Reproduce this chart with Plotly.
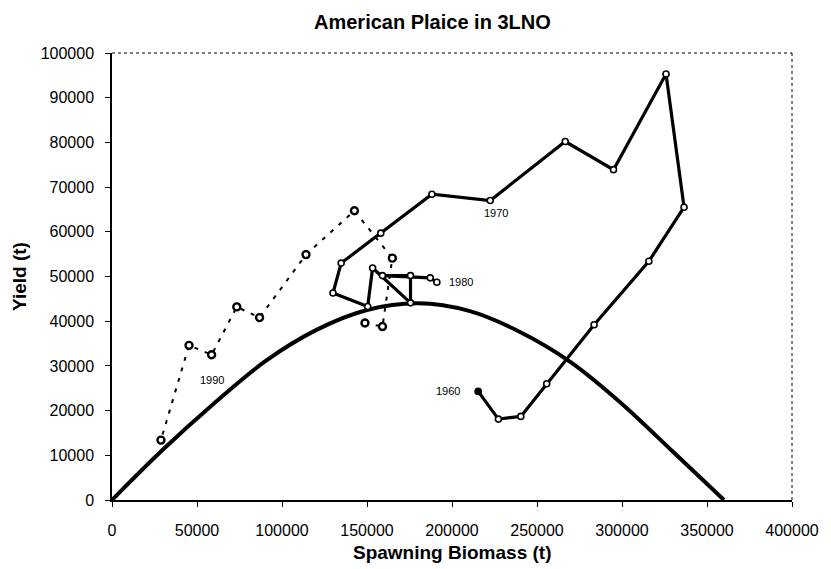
import plotly.graph_objects as go

# Stock trajectory 1960-1980 (spawning biomass vs yield, tonnes)
biomass_1960_80 = [215400, 227300, 240500, 255700, 283600, 315800, 336500, 325900,
                   295000, 266600, 222500, 188200, 158100, 134800, 130000, 150400,
                   153300, 175600, 175600, 159100, 187200, 191100]
yield_1960_80 = [24300, 18100, 18700, 26000, 39200, 53400, 65500, 95300,
                 73900, 80200, 67000, 68400, 59700, 53000, 46300, 43300,
                 51900, 44100, 50200, 50200, 49700, 48700]

# Later trajectory (dashed)
biomass_late = [148800, 159100, 164900, 142600, 114100, 86800, 73400, 58600, 45300, 28800]
yield_late = [39600, 38800, 54100, 64700, 54900, 40800, 43200, 32500, 34600, 13400]

# Equilibrium production curve
curve_biomass = [0, 30000, 60000, 90000, 120000, 150000, 180000, 210000,
                 240000, 270000, 300000, 330000, 360000]
curve_yield = [0, 11300, 21600, 31000, 38000, 42500, 44000, 42300,
               37600, 30800, 21500, 10800, 0]

# Year labels: (year, biomass, yield)
year_labels = [("1960", 215400, 24300), ("1970", 222500, 67000),
               ("1980", 191100, 48700), ("1990", 58600, 32500)]

FONT = "Liberation Sans, Arial, sans-serif"

fig = go.Figure()

fig.add_trace(go.Scatter(
    x=curve_biomass, y=curve_yield, mode="lines",
    line=dict(color="black", width=4, shape="spline", smoothing=1.0),
    hoverinfo="skip", showlegend=False))

fig.add_trace(go.Scatter(
    x=biomass_late, y=yield_late, mode="lines+markers",
    line=dict(color="black", width=2, dash="4px,7px"),
    marker=dict(symbol="circle", size=7, color="white",
                line=dict(color="black", width=2.4)),
    showlegend=False))

fig.add_trace(go.Scatter(
    x=biomass_1960_80, y=yield_1960_80, mode="lines+markers",
    line=dict(color="black", width=3.2),
    marker=dict(symbol="circle", size=6, color="white",
                line=dict(color="black", width=1.6)),
    showlegend=False))

# first year drawn as a filled point
fig.add_trace(go.Scatter(
    x=biomass_1960_80[:1], y=yield_1960_80[:1], mode="markers",
    marker=dict(symbol="circle", size=7, color="black"),
    showlegend=False))

offsets = {"1960": (-30, 0), "1970": (6, -12), "1980": (24, 0), "1990": (0, -25)}
for label, bx, by in year_labels:
    dx, dy = offsets[label]
    fig.add_annotation(x=bx, y=by, text=label, showarrow=False,
                       xshift=dx, yshift=dy,
                       font=dict(family=FONT, size=11, color="#000000"))

fig.add_annotation(xref="paper", yref="paper", x=0.472, y=1.069,
                   xanchor="center", yanchor="middle",
                   text="<b>American Plaice in 3LNO</b>", showarrow=False,
                   font=dict(family=FONT, size=20, color="black"))
fig.add_annotation(xref="paper", yref="paper", x=0.5, y=-0.117,
                   xanchor="center", yanchor="middle",
                   text="<b>Spawning Biomass (t)</b>", showarrow=False,
                   font=dict(family=FONT, size=19, color="black"))
fig.add_annotation(xref="paper", yref="paper", x=-0.136, y=0.5,
                   xanchor="center", yanchor="middle",
                   text="<b>Yield (t)</b>", showarrow=False, textangle=-90,
                   font=dict(family=FONT, size=19, color="black"))

# dotted frame along the top and right of the plotting area
fig.add_shape(type="line", xref="paper", yref="paper", x0=0, y0=1, x1=1, y1=1,
              line=dict(color="black", width=1, dash="dot"))
fig.add_shape(type="line", xref="paper", yref="paper", x0=1, y0=0, x1=1, y1=1,
              line=dict(color="black", width=1, dash="dot"))

fig.update_xaxes(range=[0, 400000], tickvals=list(range(0, 400001, 50000)),
                 ticktext=[str(v) for v in range(0, 400001, 50000)],
                 showgrid=False, zeroline=False, showline=True,
                 linecolor="black", linewidth=1.5, ticks="outside",
                 ticklen=5, tickcolor="black", ticklabelstandoff=10,
                 tickfont=dict(family=FONT, size=16, color="black"))
fig.update_yaxes(range=[0, 100000], tickvals=list(range(0, 100001, 10000)),
                 ticktext=[str(v) for v in range(0, 100001, 10000)],
                 showgrid=False, zeroline=False, showline=True,
                 linecolor="black", linewidth=1.5, ticks="outside",
                 ticklen=5, tickcolor="black", ticklabelstandoff=8,
                 tickfont=dict(family=FONT, size=16, color="black"))

fig.update_layout(width=831, height=569,
                  margin=dict(l=111.5, r=32, t=53, b=68.5),
                  paper_bgcolor="white", plot_bgcolor="white",
                  showlegend=False)

fig.write_html("out.html")
